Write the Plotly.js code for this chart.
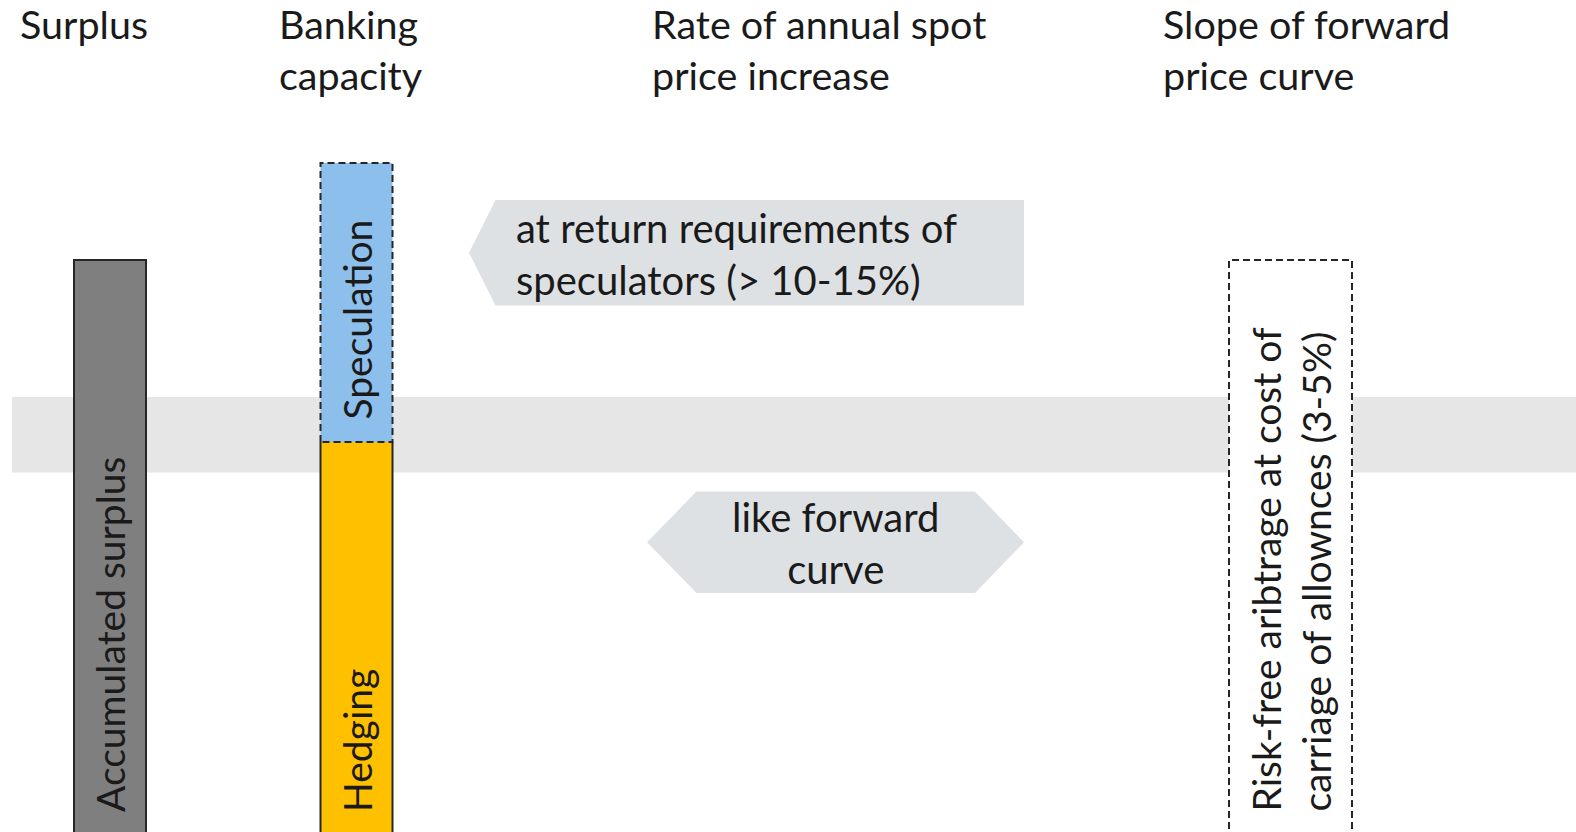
<!DOCTYPE html>
<html>
<head>
<meta charset="utf-8">
<script src="https://cdn.plot.ly/plotly-3.0.1.min.js"></script>
<style>
  html, body { margin: 0; padding: 0; background: #ffffff; }
  #chart { width: 1576px; height: 832px; }
</style>
</head>
<body>
<div id="chart"></div>
<script>
// Column headings across the top of the diagram
const columnTitles = [
  "Surplus",
  "Banking<br>capacity",
  "Rate of annual spot<br>price increase",
  "Slope of forward<br>price curve"
];

// Stacked levels (arbitrary units)
const surplusLevel = [582];          // accumulated surplus
const hedgingLevel = [400];          // banking capacity used for hedging
const speculationLevel = [279];      // banking capacity used for speculation
const arbitrageLevel = [582];        // risk-free arbitrage range

// Labels written inside the columns
const barLabels = {
  surplus: "Accumulated surplus",
  hedging: "Hedging",
  speculation: "Speculation",
  arbitrage: "Risk-free aribtrage at cost of<br>carriage of allownces (3-5%)"
};
const calloutLabels = [
  "at return requirements of<br>speculators (> 10-15%)",
  "like forward<br>curve"
];

// ---- layout constants (pixel-like axis units) ----
const FONT = "Lato, 'Open Sans', sans-serif";
const TXT = "#1a1a1a";
const EDGE = "#262626";
const colSurplus = { x: 110, w: 72 };
const colBanking = { x: 356.5, w: 72 };
const colArb = { x: 1290.5, w: 123 };
const Y_TOP = 842;                    // axis value at the top edge

const traces = [];

// Accumulated surplus bar
traces.push({
  type: "bar", x: [colSurplus.x], y: surplusLevel, width: [colSurplus.w],
  marker: { color: "#7f7f7f", line: { color: EDGE, width: 2 } },
  hoverinfo: "skip", showlegend: false
});

// Banking capacity: hedging base with speculation stacked on top
traces.push({
  type: "bar", x: [colBanking.x], y: hedgingLevel, width: [colBanking.w],
  marker: { color: "#ffc000", line: { width: 0 } },
  hoverinfo: "skip", showlegend: false
});
traces.push({
  type: "bar", x: [colBanking.x], y: speculationLevel, base: hedgingLevel,
  width: [colBanking.w],
  marker: { color: "#8dbfec", line: { width: 0 } },
  hoverinfo: "skip", showlegend: false
});

// Arbitrage column: white fill that masks the band behind it
traces.push({
  type: "bar", x: [colArb.x], y: arbitrageLevel, width: [colArb.w],
  marker: { color: "#ffffff", line: { width: 0 } },
  hoverinfo: "skip", showlegend: false
});

// Solid sides of the hedging block
{
  const l = colBanking.x - colBanking.w / 2, r = colBanking.x + colBanking.w / 2;
  const top = hedgingLevel[0];
  traces.push({
    type: "scatter", mode: "lines",
    x: [l, l, null, r, r], y: [-20, top, null, -20, top],
    line: { color: EDGE, width: 2 },
    hoverinfo: "skip", showlegend: false
  });
}

// Dashed outline helper for a rectangle built from a column and its levels
function dashedBox(col, bottom, top) {
  const l = col.x - col.w / 2, r = col.x + col.w / 2;
  return {
    type: "scatter", mode: "lines",
    x: [l, l, r, r, l], y: [bottom, top, top, bottom, bottom],
    line: { color: EDGE, width: 2, dash: "7px,4px" },
    hoverinfo: "skip", showlegend: false
  };
}
traces.push(dashedBox(colBanking, hedgingLevel[0], hedgingLevel[0] + speculationLevel[0]));
traces.push(dashedBox(colArb, -20, arbitrageLevel[0]));

// ---- shapes: horizontal band and the two grey callout arrows ----
const shapes = [
  {
    type: "rect", layer: "below", xref: "x", yref: "y",
    x0: 12, x1: 1576, y0: Y_TOP - 472.5, y1: Y_TOP - 397,
    fillcolor: "#e6e6e6", line: { width: 0 }
  },
  {
    type: "path", layer: "below", xref: "x", yref: "y",
    path: `M 469 ${Y_TOP - 252.7} L 495.5 ${Y_TOP - 200} L 1024 ${Y_TOP - 200} ` +
          `L 1024 ${Y_TOP - 305.5} L 495.5 ${Y_TOP - 305.5} Z`,
    fillcolor: "#dee1e4", line: { width: 0 }
  },
  {
    type: "path", layer: "below", xref: "x", yref: "y",
    path: `M 647 ${Y_TOP - 542.3} L 696.5 ${Y_TOP - 491.5} L 975 ${Y_TOP - 491.5} ` +
          `L 1024 ${Y_TOP - 542.3} L 975 ${Y_TOP - 593} L 696.5 ${Y_TOP - 593} Z`,
    fillcolor: "#dee1e4", line: { width: 0 }
  }
];

// ---- annotations ----
const fontMain = { family: FONT, size: 40, color: TXT };
const fontTitle = { family: FONT, size: 39.5, color: TXT };
const fontVertical = { family: FONT, size: 39, color: TXT };
const titleX = [18, 277, 650, 1161];
const annotations = [];
columnTitles.forEach((t, i) => {
  annotations.push({
    text: t, xref: "x", yref: "paper", x: titleX[i], y: 1, yshift: 2,
    xanchor: "left", yanchor: "top", align: "left",
    showarrow: false, font: fontTitle
  });
});

function vertical(text, x, bottomPx) {
  return {
    text: text, xref: "x", yref: "y", x: x, y: Y_TOP - bottomPx,
    xanchor: "center", yanchor: "bottom", align: "left", textangle: -90,
    showarrow: false, font: fontVertical
  };
}
annotations.push(vertical(barLabels.surplus, colSurplus.x, 814));
annotations.push(vertical(barLabels.hedging, colBanking.x, 814));
annotations.push(vertical(barLabels.speculation, colBanking.x, 422));
annotations.push(vertical(barLabels.arbitrage, colArb.x, 814));

annotations.push({
  text: calloutLabels[0], xref: "x", yref: "y", x: 514, y: Y_TOP - 253.5,
  xanchor: "left", yanchor: "middle", align: "left",
  showarrow: false, font: fontMain
});
annotations.push({
  text: calloutLabels[1], xref: "x", yref: "y", x: 835, y: Y_TOP - 543,
  xanchor: "center", yanchor: "middle", align: "center",
  showarrow: false, font: fontMain
});

const layout = {
  width: 1576, height: 832,
  margin: { l: 0, r: 0, t: 0, b: 0, pad: 0 },
  paper_bgcolor: "#ffffff", plot_bgcolor: "#ffffff",
  barmode: "overlay",
  xaxis: { range: [0, 1576], visible: false, fixedrange: true },
  yaxis: { range: [10, Y_TOP], visible: false, fixedrange: true },
  shapes: shapes,
  annotations: annotations,
  showlegend: false
};

Plotly.newPlot("chart", traces, layout, { staticPlot: true, displayModeBar: false });
</script>
</body>
</html>
